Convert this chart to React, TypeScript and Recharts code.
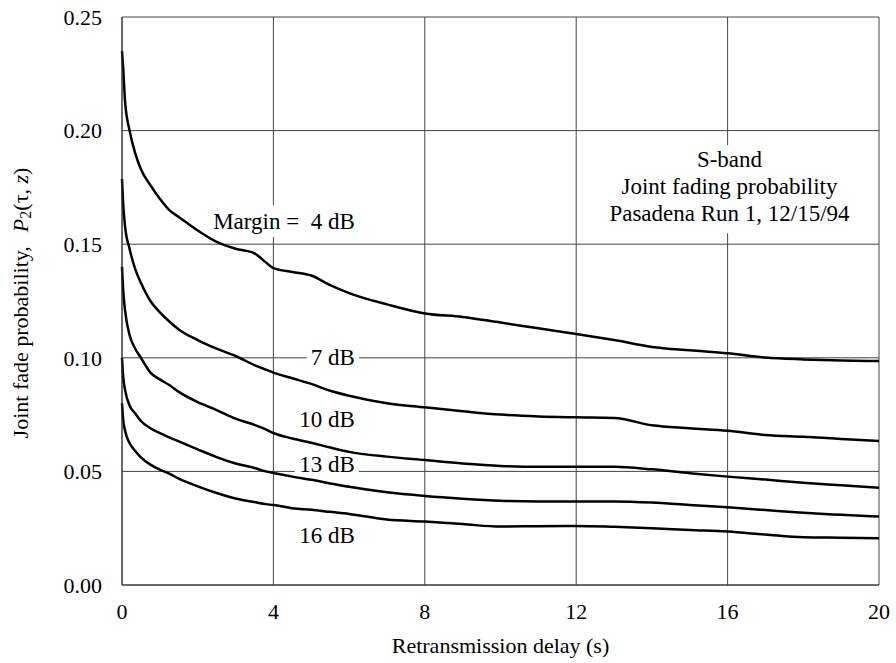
import React from "react";
import {
  LineChart, Line, XAxis, YAxis, CartesianGrid, ReferenceDot, Label,
} from "recharts";

const FONT = '"Liberation Serif", "Times New Roman", serif';

// retransmission delay (s), shared by all five curves
const delay = [0, 0.03, 0.08, 0.2, 0.35, 0.5, 0.75, 1, 1.25, 1.5, 2, 2.5, 3, 3.5, 3.8, 4, 4.5, 5, 5.5, 6, 7, 8, 9, 10, 11, 12, 13, 14, 15, 16, 17, 18, 19, 20];

// joint fade probability P2(tau, z) per fade margin
const margin4 = [0.235, 0.228, 0.213, 0.2, 0.19, 0.183, 0.176, 0.17, 0.165, 0.162, 0.156, 0.151, 0.148, 0.146, 0.142, 0.1395, 0.1378, 0.1362, 0.132, 0.1285, 0.1235, 0.1195, 0.118, 0.1155, 0.113, 0.1105, 0.1078, 0.1048, 0.1033, 0.102, 0.1001, 0.0993, 0.0988, 0.0986];
const margin7 = [0.1787, 0.168, 0.158, 0.148, 0.139, 0.133, 0.125, 0.12, 0.116, 0.1125, 0.1078, 0.104, 0.1008, 0.0968, 0.0948, 0.0935, 0.091, 0.0885, 0.0855, 0.0833, 0.08, 0.0782, 0.0765, 0.075, 0.0742, 0.0738, 0.0735, 0.0703, 0.069, 0.0679, 0.066, 0.0652, 0.0643, 0.0634];
const margin10 = [0.14, 0.13, 0.121, 0.11, 0.104, 0.1, 0.0935, 0.0905, 0.088, 0.085, 0.0805, 0.077, 0.0732, 0.0705, 0.0685, 0.0669, 0.0645, 0.0626, 0.0605, 0.0586, 0.0565, 0.055, 0.0535, 0.0524, 0.052, 0.052, 0.052, 0.0509, 0.0492, 0.0477, 0.0464, 0.045, 0.0439, 0.0428];
const margin13 = [0.1, 0.092, 0.086, 0.079, 0.0755, 0.0722, 0.069, 0.0669, 0.065, 0.0632, 0.0597, 0.0563, 0.0535, 0.0515, 0.05, 0.0493, 0.0477, 0.0463, 0.0447, 0.0432, 0.0408, 0.0392, 0.038, 0.0371, 0.0368, 0.0368, 0.0368, 0.0363, 0.0352, 0.0342, 0.033, 0.0318, 0.0309, 0.0301];
const margin16 = [0.08, 0.073, 0.068, 0.0625, 0.059, 0.0562, 0.053, 0.0508, 0.049, 0.0468, 0.0434, 0.0405, 0.0381, 0.0365, 0.0356, 0.0352, 0.0338, 0.0331, 0.0322, 0.0313, 0.0288, 0.0279, 0.0268, 0.0257, 0.0259, 0.026, 0.0256, 0.025, 0.0242, 0.0235, 0.0222, 0.021, 0.0208, 0.0206];

const xTicks = [0, 4, 8, 12, 16, 20];
const yTicks = [0, 0.05, 0.1, 0.15, 0.2, 0.25];

const series = [
  { key: "m4", values: margin4 },
  { key: "m7", values: margin7 },
  { key: "m10", values: margin10 },
  { key: "m13", values: margin13 },
  { key: "m16", values: margin16 },
];

// curve tags, right-aligned at the anchor point; the white strip blanks the grid behind the text
const tags = [
  { text: "Margin =  4 dB", x: 6.15, y: 0.1567, w: 142, top: 24, bottom: 8 },
  { text: "7 dB", x: 6.15, y: 0.0968, w: 46, top: 16, bottom: 2 },
  { text: "10 dB", x: 6.15, y: 0.0697, w: 56, top: 16, bottom: 2 },
  { text: "13 dB", x: 6.15, y: 0.0499, w: 58, top: 16, bottom: 2 },
  { text: "16 dB", x: 6.15, y: 0.0184, w: 56, top: 16, bottom: 2 },
];

const noteLines = ["S-band", "Joint fading probability", "Pasadena Run 1, 12/15/94"];

const rows = delay.map((d, i) => {
  const row: Record<string, number> = { delay: d };
  series.forEach((s) => { row[s.key] = s.values[i]; });
  return row;
});

function Tag(props: any) {
  const { cx, cy, text, w, top, bottom } = props;
  return (
    <g>
      <rect x={cx - w - 2} y={cy - top} width={w + 6} height={top + bottom} fill="#fff" />
      <text x={cx} y={cy} textAnchor="end" fontFamily={FONT} fontSize={23} fill="#000"
        style={{ whiteSpace: "pre" }}>{text}</text>
    </g>
  );
}

function Note(props: any) {
  const { cx, cy } = props;
  return (
    <g>
      <rect x={cx - 128} y={cy - 49} width={256} height={88} fill="#fff" />
      {noteLines.map((t, i) => (
        <text key={t} x={cx} y={cy + (i - 1) * 27} textAnchor="middle" fontFamily={FONT} fontSize={23} fill="#000">{t}</text>
      ))}
    </g>
  );
}

function YTitle(props: any) {
  const { viewBox } = props;
  const x = viewBox.x - 42;
  const y = viewBox.y + 286;
  return (
    <text x={x} y={y} transform={`rotate(-90 ${x} ${y})`} textAnchor="middle" dominantBaseline="central"
      fontFamily={FONT} fontSize={22} fill="#000">
      <tspan>Joint fade probability,</tspan>
      <tspan dx={14} fontStyle="italic">P</tspan>
      <tspan fontSize={16} dy={5}>2</tspan>
      <tspan dy={-5}>(τ, </tspan>
      <tspan fontStyle="italic">z</tspan>
      <tspan>)</tspan>
    </text>
  );
}

function XTitle(props: any) {
  const { viewBox } = props;
  return (
    <text x={viewBox.x + viewBox.width / 2} y={viewBox.y + 68} textAnchor="middle"
      fontFamily={FONT} fontSize={22} fill="#000">
      Retransmission delay (s)
    </text>
  );
}

export default function App() {
  const tick = { fontFamily: FONT, fontSize: 22, fill: "#000" };
  return (
    <div style={{ position: "absolute", left: 0, top: 0, background: "#fff" }}>
      <LineChart width={896} height={663} data={rows} margin={{ top: 17, right: 17, bottom: 48, left: 62 }}>
        <CartesianGrid stroke="#444" strokeWidth={1} />
        <XAxis
          dataKey="delay" type="number" domain={[0, 20]} ticks={xTicks}
          tick={tick} tickLine={false} tickSize={0} tickMargin={18}
          axisLine={{ stroke: "#333" }} height={30}
        >
          <Label content={<XTitle />} />
        </XAxis>
        <YAxis
          type="number" domain={[0, 0.25]} ticks={yTicks}
          tickFormatter={(v: number) => v.toFixed(2)}
          tick={tick} tickLine={false} tickSize={0} tickMargin={20}
          axisLine={{ stroke: "#333" }} width={60}
        >
          <Label content={<YTitle />} />
        </YAxis>
        {series.map((s) => (
          <Line key={s.key} dataKey={s.key} type="monotone" stroke="#000" strokeWidth={2.5}
            dot={false} isAnimationActive={false} />
        ))}
        {tags.map((t) => (
          <ReferenceDot key={t.text} x={t.x} y={t.y} r={0}
            shape={(p: any) => <Tag {...p} text={t.text} w={t.w} top={t.top} bottom={t.bottom} />} />
        ))}
        <ReferenceDot x={16.05} y={0.172} r={0} shape={(p: any) => <Note {...p} />} />
      </LineChart>
    </div>
  );
}
